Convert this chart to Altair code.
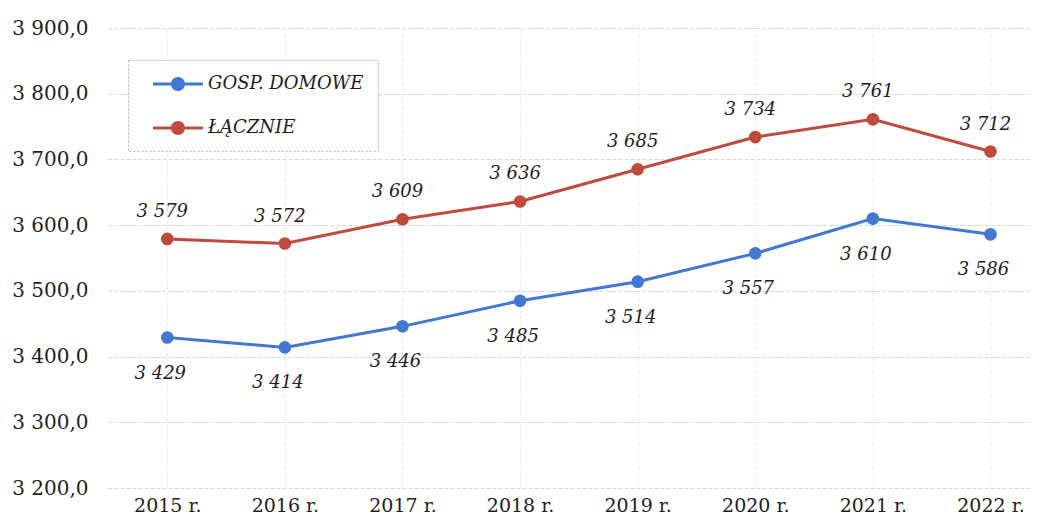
import altair as alt
import pandas as pd

years = ["2015 r.", "2016 r.", "2017 r.", "2018 r.", "2019 r.", "2020 r.", "2021 r.", "2022 r."]
gosp_domowe = [3429, 3414, 3446, 3485, 3514, 3557, 3610, 3586]
lacznie = [3579, 3572, 3609, 3636, 3685, 3734, 3761, 3712]
series_names = ["GOSP. DOMOWE", "ŁĄCZNIE"]
series_colors = ["#4178D2", "#C04A3E"]
y_ticks = [3200, 3300, 3400, 3500, 3600, 3700, 3800, 3900]

rows = []
for name, vals in zip(series_names, [gosp_domowe, lacznie]):
    for yr, v in zip(years, vals):
        rows.append({"rok": yr, "seria": name, "wartosc": v,
                     "etykieta": f"{v:,}".replace(",", " ")})
df = pd.DataFrame(rows)

FONT = "DejaVu Serif"
TXT = "#1e1e1e"

# line segment drawn as a thin filled bar plus a filled circle (bezier)
legend_path = ("M-2.5,-0.14L2.5,-0.14L2.5,0.14L-2.5,0.14Z"
               "M0.7,0C0.7,0.387,0.387,0.7,0,0.7"
               "C-0.387,0.7,-0.7,0.387,-0.7,0"
               "C-0.7,-0.387,-0.387,-0.7,0,-0.7"
               "C0.387,-0.7,0.7,-0.387,0.7,0Z")

x_enc = alt.X(
    "rok:N", sort=years,
    scale=alt.Scale(type="point", padding=0.42, align=0.6),
    axis=alt.Axis(title=None, labelAngle=0, labelFont=FONT, labelFontSize=19,
                  labelColor=TXT, labelPadding=8, ticks=False, domain=False,
                  grid=True, gridColor="#e6e6e6", gridDash=[3, 3]),
)
y_enc = alt.Y(
    "wartosc:Q",
    scale=alt.Scale(domain=[3200, 3900], nice=False, zero=False),
    axis=alt.Axis(title=None, values=y_ticks,
                  labelExpr="replace(replace(format(datum.value, ',.1f'), ',', ' '), '.', ',')",
                  labelFont=FONT, labelFontSize=20, labelColor=TXT,
                  labelPadding=20, ticks=False, domain=False,
                  grid=True, gridColor="#d6d6d6", gridDash=[4, 2]),
)

color_scale = alt.Scale(domain=series_names, range=series_colors)

base = alt.Chart(df).encode(x=x_enc, y=y_enc)

legend = alt.Legend(
    title=None, orient="none", legendX=20, legendY=32,
    symbolType=legend_path, symbolSize=400, symbolStrokeWidth=0,
    symbolOpacity=1,
    symbolOffset=26, labelOffset=20, padding=14, rowPadding=25,
    labelFont=FONT, labelFontStyle="italic", labelFontSize=18, labelColor=TXT,
    strokeColor="#b5b5b5", fillColor="white",
)

lines = base.mark_line(strokeWidth=3).encode(
    color=alt.Color("seria:N", scale=color_scale, legend=legend)
)

points = base.mark_point(filled=True, size=160, opacity=1).encode(
    color=alt.Color("seria:N", scale=color_scale, legend=legend),
)

labels_top = base.transform_filter(alt.datum.seria == "ŁĄCZNIE").mark_text(
    font=FONT, fontStyle="italic", fontSize=18, color=TXT, dy=-27, dx=-5
).encode(text="etykieta:N")

labels_bottom = base.transform_filter(alt.datum.seria == "GOSP. DOMOWE").mark_text(
    font=FONT, fontStyle="italic", fontSize=18, color=TXT, dy=36, dx=-7
).encode(text="etykieta:N")

chart = alt.layer(points, lines, labels_top, labels_bottom).properties(
    width=922, height=460,
    autosize="none",
    padding={"left": 100, "top": 20, "right": 0, "bottom": 30},
    background="white",
).configure_view(stroke=None).configure_legend(strokeDash=[2, 2])

chart.save("out.html", embed_options={"renderer": "svg", "actions": False})
